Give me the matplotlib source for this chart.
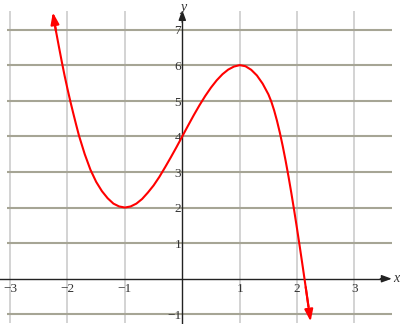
import matplotlib
matplotlib.use("Agg")
import matplotlib.pyplot as plt

# Data
curve_x = [-2.255, -2.25, -2.20, -2.15, -2.10, -2.05, -2.00, -1.95, -1.90, -1.85,
           -1.80, -1.70, -1.60, -1.50, -1.40, -1.30, -1.20, -1.10, -1.00, -0.90,
           -0.80, -0.70, -0.60, -0.50, -0.40, -0.30, -0.20, -0.10, 0.00, 0.10,
           0.20, 0.30, 0.40, 0.50, 0.60, 0.70, 0.80, 0.90, 1.00, 1.10,
           1.20, 1.30, 1.40, 1.50, 1.55, 1.60, 1.65, 1.70, 1.75, 1.80,
           1.85, 1.90, 1.95, 2.00, 2.05, 2.10, 2.15, 2.20, 2.235]
curve_y = [7.48, 7.40, 6.95, 6.52, 6.10, 5.70, 5.33, 4.98, 4.65, 4.33,
           4.02, 3.50, 3.06, 2.72, 2.46, 2.26, 2.11, 2.03, 2.00, 2.03,
           2.11, 2.24, 2.42, 2.62, 2.86, 3.13, 3.41, 3.70, 4.00, 4.30,
           4.595, 4.875, 5.135, 5.37, 5.575, 5.745, 5.875, 5.96, 6.00, 5.97,
           5.87, 5.71, 5.48, 5.18, 4.98, 4.73, 4.435, 4.10, 3.725, 3.315,
           2.875, 2.405, 1.91, 1.395, 0.865, 0.32, -0.235, -0.80, -1.20]

x_ticks = [-3, -2, -1, 1, 2, 3]
x_tick_labels = ["\u22123", "\u22122", "\u22121", "1", "2", "3"]
y_ticks = [-1, 1, 2, 3, 4, 5, 6, 7]
y_tick_labels = ["\u22121", "1", "2", "3", "4", "5", "6", "7"]
x_grid = [-3, -2, -1, 0, 1, 2, 3]
y_grid = [-1, 0, 1, 2, 3, 4, 5, 6, 7]

fig = plt.figure(figsize=(4.0, 3.24), dpi=100)
ax = fig.add_axes([0, 0, 1, 1])
ax.set_xlim(-3.176, 3.793)
ax.set_ylim(-1.272, 7.83)
ax.axis("off")

# grid
ax.vlines([g for g in x_grid if g != 0], -1.25, 7.52, colors="#c8c8c8", lw=1.1, zorder=1)
ax.hlines([g for g in y_grid if g != 0], -3.05, 3.65, colors="#a6a595", lw=1.5, zorder=1)

# axes with arrows
ax.plot([-3.2, 3.55], [0, 0], color="#222222", lw=1.0, zorder=2)
ax.annotate("", xy=(3.65, 0), xytext=(3.45, 0),
            arrowprops=dict(arrowstyle="-|>,head_length=0.6,head_width=0.22",
                            color="#222222", lw=1.0, mutation_scale=10,
                            shrinkA=0, shrinkB=0), zorder=2)
ax.plot([0, 0], [-1.3, 7.3], color="#222222", lw=1.0, zorder=2)
ax.annotate("", xy=(0, 7.55), xytext=(0, 7.2),
            arrowprops=dict(arrowstyle="-|>,head_length=0.6,head_width=0.22",
                            color="#222222", lw=1.0, mutation_scale=10,
                            shrinkA=0, shrinkB=0), zorder=2)

serif = ["Liberation Serif", "DejaVu Serif"]
for t, lab in zip(x_ticks, x_tick_labels):
    ax.text(t, -0.30, lab, ha="center", va="center", fontsize=9.5,
            family=serif, color="#333333", zorder=3)
for t, lab in zip(y_ticks, y_tick_labels):
    ax.text(-0.02, t - 0.05, lab, ha="right", va="center", fontsize=9.5,
            family=serif, color="#333333", zorder=3)
ax.text(3.72, 0.0, "x", ha="center", va="center", fontsize=10,
        family=serif, style="italic", color="#333333")
ax.text(0.01, 7.63, "y", ha="center", va="center", fontsize=10,
        family=serif, style="italic", color="#333333")

# curve
ax.plot(curve_x[1:-1], curve_y[1:-1], color="red", lw=1.5, zorder=4,
        solid_capstyle="butt", solid_joinstyle="round")
ax.annotate("", xy=(curve_x[0], curve_y[0]), xytext=(curve_x[2], curve_y[2]),
            arrowprops=dict(arrowstyle="-|>,head_length=0.7,head_width=0.25",
                            color="red", lw=1.5, mutation_scale=10,
                            shrinkA=0, shrinkB=0), zorder=4)
ax.annotate("", xy=(curve_x[-1], curve_y[-1]), xytext=(curve_x[-3], curve_y[-3]),
            arrowprops=dict(arrowstyle="-|>,head_length=0.7,head_width=0.25",
                            color="red", lw=1.5, mutation_scale=10,
                            shrinkA=0, shrinkB=0), zorder=4)

fig.savefig("out.png", dpi=100)
